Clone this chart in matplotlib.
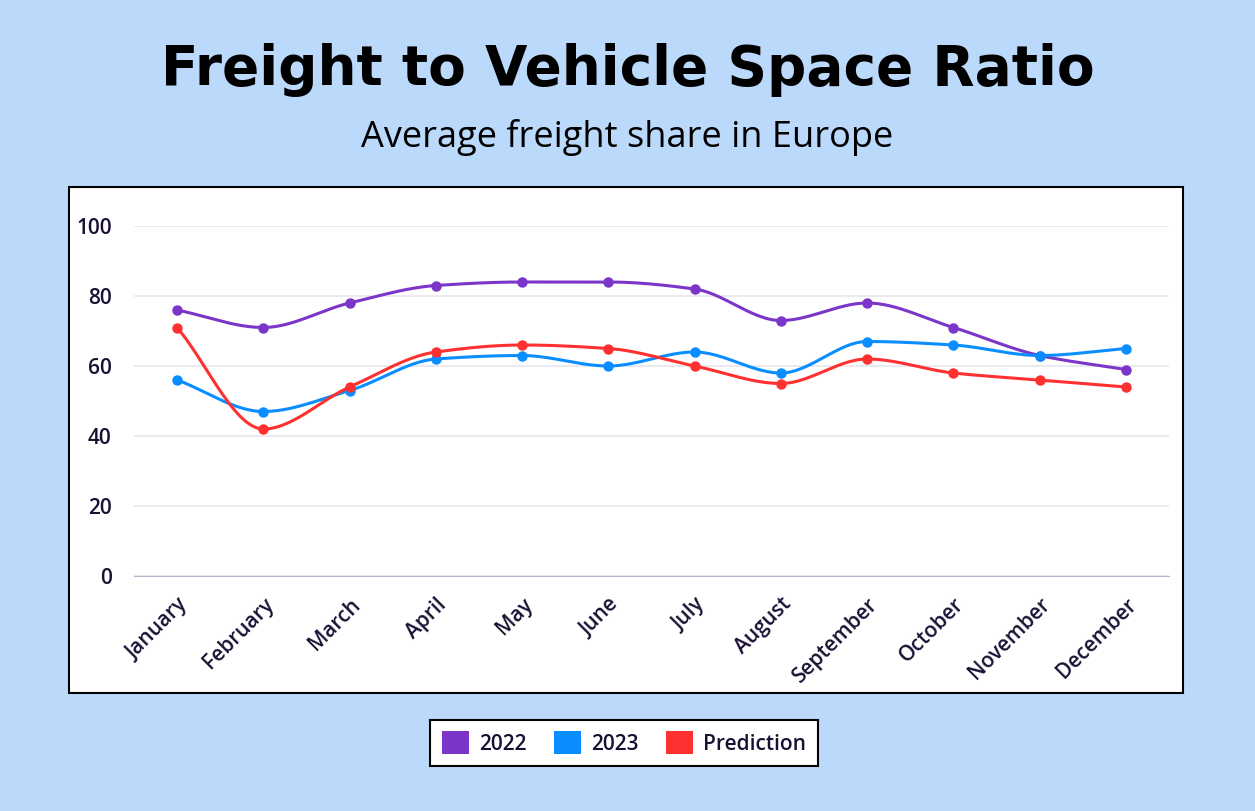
import numpy as np
import matplotlib.pyplot as plt
from matplotlib.patches import Rectangle, Patch

months = ['January', 'February', 'March', 'April', 'May', 'June', 'July',
          'August', 'September', 'October', 'November', 'December']
y2022 = [76, 71, 78, 83, 84, 84, 82, 73, 78, 71, 63, 59]
y2023 = [56, 47, 53, 62, 63, 60, 64, 58, 67, 66, 63, 65]
pred = [71, 42, 54, 64, 66, 65, 60, 55, 62, 58, 56, 54]

bg = '#BBDAFB'
txt = '#1A1033'


def monotone(y, n=30):
    # monotone cubic (Fritsch-Carlson) just for drawing the smooth line
    y = np.asarray(y, float)
    x = np.arange(len(y), dtype=float)
    d = np.diff(y)
    m = np.zeros_like(y)
    m[0], m[-1] = d[0], d[-1]
    for i in range(1, len(y) - 1):
        if d[i - 1] * d[i] > 0:
            m[i] = 2 / (1 / d[i - 1] + 1 / d[i])
    xs, ys = [], []
    for i in range(len(y) - 1):
        t = np.linspace(0, 1, n, endpoint=False)
        h00 = 2 * t**3 - 3 * t**2 + 1
        h10 = t**3 - 2 * t**2 + t
        h01 = -2 * t**3 + 3 * t**2
        h11 = t**3 - t**2
        xs.append(x[i] + t)
        ys.append(h00 * y[i] + h10 * m[i] + h01 * y[i + 1] + h11 * m[i + 1])
    xs.append([x[-1]])
    ys.append([y[-1]])
    return np.concatenate(xs), np.concatenate(ys)


fig = plt.figure(figsize=(12.55, 8.11), dpi=100, facecolor=bg)
W, H = 1255, 811

# white chart panel
fig.patches.append(Rectangle((69 / W, 1 - 693 / H), (1183 - 69) / W, (693 - 187) / H,
                             transform=fig.transFigure, facecolor='white',
                             edgecolor='black', linewidth=1.5, zorder=-10))

fig.text(0.5, 1 - 70 / H, 'Freight to Vehicle Space Ratio', ha='center', va='center',
         fontsize=39.5, fontweight='heavy', color='black', family='DejaVu Sans')
fig.text(0.5, 1 - 138 / H, 'Average freight share in Europe', ha='center', va='center',
         fontsize=26, color='black', family='Open Sans')

ax = fig.add_axes([134 / W, 1 - 576 / H, (1169 - 134) / W, (576 - 226) / H])
ax.set_facecolor('none')

series = [(y2022, '#7B35C8', '2022'), (y2023, '#0A8EFF', '2023'), (pred, '#FF3030', 'Prediction')]
x = np.arange(len(months))
for vals, col, lab in series:
    sx, sy = monotone(vals)
    ax.plot(sx, sy, color=col, lw=2.2, solid_capstyle='round', clip_on=False)
    ax.plot(x, vals, 'o', color=col, ms=6.5, clip_on=False)

ax.set_xlim(-0.5, len(months) - 0.5)
ax.set_ylim(0, 100)
ax.set_yticks(range(0, 101, 20))
ax.grid(axis='y', color='#E6E6EE', lw=1.2)
ax.set_axisbelow(True)
for s in ['top', 'right', 'left']:
    ax.spines[s].set_visible(False)
ax.spines['bottom'].set_color('#B8B8D0')
ax.tick_params(length=0, labelsize=15, labelcolor=txt)
ax.tick_params(axis='y', pad=16)
ax.set_xticks(x)
ax.set_xticklabels(months, rotation=45, ha='right', rotation_mode='anchor')
ax.tick_params(axis='x', pad=13)
for lbl in ax.get_xticklabels() + ax.get_yticklabels():
    lbl.set_family('Open Sans')
    lbl.set_fontweight('semibold')

handles = [Patch(facecolor=c, label=l) for _, c, l in series]
leg = fig.legend(handles=handles, loc='center', bbox_to_anchor=(624 / W, 1 - 743 / H),
                 ncol=3, frameon=True, fancybox=False, fontsize=15, handlelength=1.3,
                 handleheight=1.3, columnspacing=1.3, handletextpad=0.5, borderpad=0.55,
                 framealpha=1, facecolor='white')
leg.get_frame().set_edgecolor('black')
leg.get_frame().set_linewidth(1.5)
for t in leg.get_texts():
    t.set_color(txt)
    t.set_family('Open Sans')
    t.set_fontweight('semibold')

fig.savefig('out.png', dpi=100, facecolor=bg)
